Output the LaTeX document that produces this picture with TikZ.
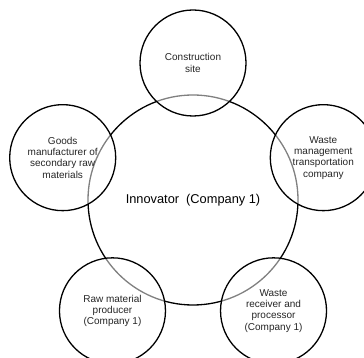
\documentclass[tikz,border=0pt]{standalone}
\usepackage{fontspec}
\setmainfont{Liberation Sans}
\begin{document}
\begin{tikzpicture}[x=1pt,y=1pt,
  bigc/.style={circle,draw=black,line width=1.3pt,minimum size=210pt,inner sep=0pt,
    font=\fontsize{12.8}{14}\selectfont},
  smallc/.style={circle,draw=black,line width=1.3pt,minimum size=106pt,inner sep=0pt,
    fill=white,fill opacity=0.5,draw opacity=1,text opacity=1,align=center,
    font=\fontsize{10}{11.3}\selectfont,text=black!85}]
\useasboundingbox (0,0) rectangle (364,358);
\clip (0,0) rectangle (364,358);
\coordinate (c) at (193,158);
\node[bigc] (inn) at (c) {Innovator\ \ (Company 1)};
\node[smallc] (cs) at ([shift={(90:137pt)}]c) {Construction\\site};
\node[smallc] (gm) at ([shift={(162:137pt)}]c) {Goods\\manufacturer of\\secondary raw\\materials};
\node[smallc] (rm) at ([shift={(234:137pt)}]c) {Raw material\\producer\\(Company 1)};
\node[smallc] (wr) at ([shift={(306:137pt)}]c) {Waste\\receiver and\\processor\\(Company 1)};
\node[smallc] (wm) at ([shift={(18:137pt)}]c) {Waste\\management\\transportation\\company};
\end{tikzpicture}
\end{document}
